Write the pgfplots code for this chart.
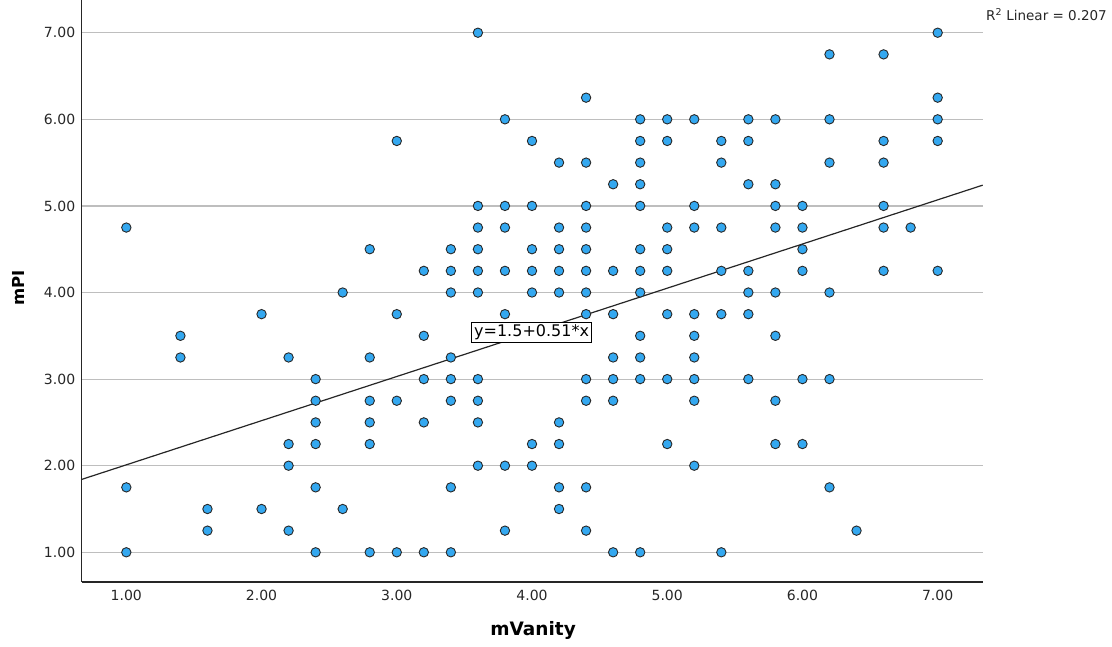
\documentclass[border=0pt]{standalone}
\usepackage{pgfplots}
\pgfplotsset{compat=1.18}
\usepackage{fontspec}
\setmainfont{DejaVu Sans}
\definecolor{ptfill}{RGB}{52,168,240}
\definecolor{ptedge}{RGB}{40,40,40}
\definecolor{gridc}{RGB}{190,190,190}
\begin{document}
\begin{tikzpicture}[x=1pt,y=1pt]
\path[use as bounding box] (0,0) rectangle (1112,646);
\begin{axis}[
  at={(81.7pt,64pt)}, anchor=south west,
  width=901pt, height=582pt, scale only axis,
  xmin=0.67, xmax=7.333, ymin=0.657, ymax=7.378,
  axis x line*=bottom, axis y line*=left,
  axis line style={draw=black!85, line width=1.3pt},
  xtick={1,2,...,7}, ytick={1,2,...,7},
  major tick length=0pt,
  ymajorgrids, grid style={gridc, line width=1.2pt},
  /pgf/number format/.cd, fixed, fixed zerofill, precision=2, assume math mode=true,
  /pgfplots/.cd,
  tick label style={font=\fontsize{14}{16}\selectfont, text=black!85},
  yticklabel style={xshift=-3pt},
  xticklabel style={yshift=-5pt},
  xlabel={mVanity}, ylabel={mPI},
  every axis x label/.style={at={(axis description cs:0.501,-0.0825)}, anchor=center, font=\bfseries\fontsize{18.5}{22}\selectfont},
  every axis y label/.style={at={(axis description cs:-0.0706,0.505)}, rotate=90, anchor=center, font=\bfseries\fontsize{16.5}{20}\selectfont},
  clip=false,
]
\addplot[only marks, mark=*, mark size=4.7pt, mark options={fill=ptfill, draw=ptedge, line width=0.9pt}] coordinates {
(1.0,4.75) (1.0,1.75) (1.0,1.00)
(1.4,3.50) (1.4,3.25)
(1.6,1.50) (1.6,1.25)
(2.0,3.75) (2.0,1.50)
(2.2,3.25) (2.2,2.25) (2.2,2.00) (2.2,1.25)
(2.4,3.00) (2.4,2.75) (2.4,2.50) (2.4,2.25) (2.4,1.75) (2.4,1.00)
(2.6,4.00) (2.6,1.50)
(2.8,4.50) (2.8,3.25) (2.8,2.75) (2.8,2.50) (2.8,2.25) (2.8,1.00)
(3.0,5.75) (3.0,3.75) (3.0,2.75) (3.0,1.00)
(3.2,4.25) (3.2,3.50) (3.2,3.00) (3.2,2.50) (3.2,1.00)
(3.4,4.50) (3.4,4.25) (3.4,4.00) (3.4,3.25) (3.4,3.00) (3.4,2.75) (3.4,1.75) (3.4,1.00)
(3.6,7.00) (3.6,5.00) (3.6,4.75) (3.6,4.50) (3.6,4.25) (3.6,4.00) (3.6,3.00) (3.6,2.75) (3.6,2.50) (3.6,2.00)
(3.8,6.00) (3.8,5.00) (3.8,4.75) (3.8,4.25) (3.8,3.75) (3.8,2.00) (3.8,1.25)
(4.0,5.75) (4.0,5.00) (4.0,4.50) (4.0,4.25) (4.0,4.00) (4.0,2.25) (4.0,2.00)
(4.2,5.50) (4.2,4.75) (4.2,4.50) (4.2,4.25) (4.2,4.00) (4.2,2.50) (4.2,2.25) (4.2,1.75) (4.2,1.50)
(4.4,6.25) (4.4,5.50) (4.4,5.00) (4.4,4.75) (4.4,4.50) (4.4,4.25) (4.4,4.00) (4.4,3.75) (4.4,3.00) (4.4,2.75) (4.4,1.75) (4.4,1.25)
(4.6,5.25) (4.6,4.25) (4.6,3.75) (4.6,3.25) (4.6,3.00) (4.6,2.75) (4.6,1.00)
(4.8,6.00) (4.8,5.75) (4.8,5.50) (4.8,5.25) (4.8,5.00) (4.8,4.50) (4.8,4.25) (4.8,4.00) (4.8,3.50) (4.8,3.25) (4.8,3.00) (4.8,1.00)
(5.0,6.00) (5.0,5.75) (5.0,4.75) (5.0,4.50) (5.0,4.25) (5.0,3.75) (5.0,3.00) (5.0,2.25)
(5.2,6.00) (5.2,5.00) (5.2,4.75) (5.2,3.75) (5.2,3.50) (5.2,3.25) (5.2,3.00) (5.2,2.75) (5.2,2.00)
(5.4,5.75) (5.4,5.50) (5.4,4.75) (5.4,4.25) (5.4,3.75) (5.4,1.00)
(5.6,6.00) (5.6,5.75) (5.6,5.25) (5.6,4.25) (5.6,4.00) (5.6,3.75) (5.6,3.00)
(5.8,6.00) (5.8,5.25) (5.8,5.00) (5.8,4.75) (5.8,4.00) (5.8,3.50) (5.8,2.75) (5.8,2.25)
(6.0,5.00) (6.0,4.75) (6.0,4.50) (6.0,4.25) (6.0,3.00) (6.0,2.25)
(6.2,6.75) (6.2,6.00) (6.2,5.50) (6.2,4.00) (6.2,3.00) (6.2,1.75)
(6.4,1.25)
(6.6,6.75) (6.6,5.75) (6.6,5.50) (6.6,5.00) (6.6,4.75) (6.6,4.25)
(6.8,4.75)
(7.0,7.00) (7.0,6.25) (7.0,6.00) (7.0,5.75) (7.0,4.25)
};
\addplot[black!85, line width=1.2pt] coordinates {(0.67,1.8417) (7.333,5.2398)};
\node[draw=black, line width=0.9pt, fill=white, inner sep=2.5pt, font=\fontsize{16}{19}\selectfont] at (axis cs:3.997,3.538) {y=1.5+0.51*x};
\node[anchor=base east, inner sep=0pt, font=\fontsize{13.5}{16}\selectfont, text=black!85] at (axis description cs:1.138,0.964) {R\textsuperscript{2} Linear = 0.207};
\end{axis}
\end{tikzpicture}
\end{document}
